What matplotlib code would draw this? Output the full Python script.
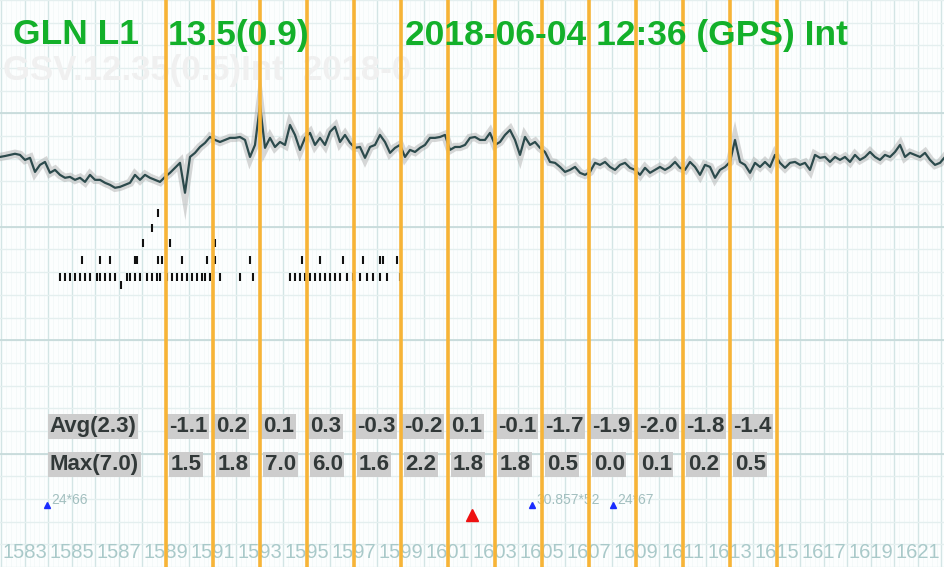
import numpy as np
import matplotlib
matplotlib.use("Agg")
import matplotlib.pyplot as plt

# Kurve (Werte an gleichmaessig verteilten Zeitpunkten ueber die ganze Breite)
x_start, x_end = 1581.94, 1622.15
signal = [
    13.08, 13.12, 13.17, 13.22, 13.17, 12.95, 13.04, 12.42, 12.73, 12.86,
    12.38, 12.51, 12.29, 12.16, 12.20, 12.07, 12.16, 11.98, 12.29, 12.07,
    12.07, 11.94, 11.85, 11.72, 11.76, 11.85, 11.94, 12.29, 12.07, 12.29,
    12.16, 12.07, 11.98, 12.20, 12.38, 12.60, 12.82, 11.50, 13.08, 13.26,
    13.52, 13.70, 13.96, 13.83, 13.74, 13.83, 13.92, 13.92, 13.96, 13.83,
    13.08, 13.61, 15.37, 13.48, 13.92, 13.52, 13.74, 13.61, 14.49, 14.05,
    13.39, 13.92, 14.14, 13.61, 13.92, 13.61, 14.19, 14.41, 13.74, 14.05,
    13.70, 13.48, 13.52, 13.04, 13.52, 13.61, 14.05, 13.74, 13.26, 13.48,
    13.61, 13.08, 13.39, 13.30, 13.48, 13.61, 13.92, 13.92, 13.96, 14.05,
    13.39, 13.52, 13.52, 13.61, 13.92, 13.96, 13.83, 13.83, 14.14, 13.61,
    13.74, 14.05, 14.27, 13.83, 13.17, 13.96, 13.61, 13.74, 13.48, 13.30,
    12.86, 12.82, 12.64, 12.42, 12.51, 12.64, 12.38, 12.29, 12.42, 12.82,
    12.73, 12.86, 12.64, 12.51, 12.73, 12.82, 12.60, 12.51, 12.29, 12.60,
    12.38, 12.51, 12.64, 12.51, 12.64, 12.86, 12.60, 12.51, 12.86, 12.64,
    12.29, 12.73, 12.64, 12.16, 12.51, 12.64, 12.86, 13.83, 12.86, 12.73,
    12.38, 12.82, 12.64, 12.86, 12.64, 13.17, 12.82, 12.60, 12.82, 12.86,
    12.73, 12.82, 12.51, 13.17, 13.04, 13.08, 12.86, 13.08, 12.95, 13.08,
    12.86, 13.17, 12.95, 13.08, 13.30, 13.08, 12.95, 13.17, 13.08, 13.30,
    13.61, 13.08, 13.26, 13.17, 13.08, 13.26, 12.95, 12.73, 12.82, 13.08,
]

# orange Tagesgrenzen und Statistik je Abschnitt
day_lines = [1589, 1591, 1593, 1595, 1597, 1599, 1601, 1603, 1605, 1607, 1609, 1611, 1613, 1615]
avg_values = ["-1.1", "0.2", "0.1", "0.3", "-0.3", "-0.2", "0.1", "-0.1", "-1.7", "-1.9", "-2.0", "-1.8", "-1.4"]
max_values = ["1.5", "1.8", "7.0", "6.0", "1.6", "2.2", "1.8", "1.8", "0.5", "0.0", "0.1", "0.2", "0.5"]
avg_label = "Avg(2.3)"
max_label = "Max(7.0)"

tick_labels = [1583, 1585, 1587, 1589, 1591, 1593, 1595, 1597, 1599, 1601,
               1603, 1605, 1607, 1609, 1611, 1613, 1615, 1617, 1619, 1621]

# kleine schwarze Striche unter der Kurve
marks_x = [1584.49, 1584.70, 1584.91, 1585.13, 1585.34, 1585.55, 1585.77, 1586.06, 1586.19, 1586.40,
           1586.62, 1586.83, 1587.34, 1587.47, 1587.68, 1587.89, 1588.19, 1588.40, 1588.62, 1588.74,
           1589.04, 1589.26, 1589.47, 1589.68, 1589.89, 1590.11, 1590.32, 1590.53, 1590.66, 1590.87,
           1591.30, 1592.15, 1592.70, 1594.28, 1594.49, 1594.70, 1594.91, 1595.13, 1595.34, 1595.55,
           1595.77, 1595.98, 1596.19, 1596.40, 1596.70, 1596.96, 1597.26, 1597.55, 1597.81, 1598.11,
           1598.40, 1598.96,
           1585.43, 1586.19, 1586.62, 1587.68, 1587.77, 1588.66, 1588.83, 1589.68, 1590.74, 1591.09,
           1592.57, 1594.79, 1595.55, 1596.53, 1597.38, 1598.11, 1598.23, 1598.83,
           1588.02, 1589.17, 1591.09, 1588.40, 1588.66, 1587.09]
marks_y = [7.80] * 52 + [8.55] * 18 + [9.30, 9.30, 9.30, 9.96, 10.62, 7.44]

# Satelliten-Markierungen
sat_x = [1583.94, 1604.57, 1608.02]
sat_labels = ["24*66", "30.857*52", "24*67"]
sat_y = -2.25
event_x = 1602.02
event_y = -2.69

fig = plt.figure(figsize=(9.45, 5.67), dpi=100)
ax = fig.add_axes([0, 0, 1, 1])
ax.set_facecolor("#fcfefe")
ax.set_xlim(x_start, x_end)
ax.set_ylim(-5, 20)

# Raster
for xv in np.arange(1582, 1623, 0.2):
    ax.axvline(xv, color="#f1f7f7", lw=0.5, zorder=0)
for xv in range(1582, 1623):
    ax.axvline(xv, color="#d3e5e5", lw=1.0, zorder=0)
for yv in range(-5, 21):
    ax.axhline(yv, color="#e4efef", lw=1.0, zorder=0)
for yv in [0, 5, 10, 15]:
    ax.axhline(yv, color="#c4d9d9", lw=1.2, zorder=0)
ax.set_xticks([])
ax.set_yticks([])
for s in ax.spines.values():
    s.set_visible(False)

# blasse Geistertext-Zeile
ax.text(1582.05, 16.9, "GSV.12.35(0.5)Int  2018-0", fontsize=25, fontweight="bold",
        family="Liberation Sans", color="#f0f0f0", va="center", ha="left", zorder=1)

x = np.linspace(x_start, x_end, len(signal))
ax.plot(x, signal, color="#a8a8a8", lw=6, alpha=0.45, zorder=3, solid_joinstyle="miter")
ax.plot(x, signal, color="#2c4a4c", lw=1.6, zorder=4)

ax.plot(marks_x, marks_y, ls="none", marker="|", ms=6, mew=1.5, color="#111111", zorder=4)

for d in day_lines:
    ax.axvline(d, color="#f7b437", lw=2.6, zorder=6)

box = dict(boxstyle="square,pad=0.08", fc="#cdcdcd", ec="none")
ax.text(1584.06, 1.19, avg_label, fontsize=16, fontweight="bold", family="Liberation Sans",
        color="#313838", va="center", ha="left", bbox=box, zorder=5)
ax.text(1584.06, -0.48, max_label, fontsize=16, fontweight="bold", family="Liberation Sans",
        color="#313838", va="center", ha="left", bbox=box, zorder=5)
for d, a, m in zip(day_lines, avg_values, max_values):
    ax.text(d + 0.12, 1.19, a, fontsize=16, fontweight="bold", family="Liberation Sans",
            color="#313838", va="center", ha="left", bbox=box, zorder=5)
    ax.text(d + 0.2, -0.48, m, fontsize=16, fontweight="bold", family="Liberation Sans",
            color="#313838", va="center", ha="left", bbox=box, zorder=5)

ax.plot(sat_x, [sat_y] * len(sat_x), ls="none", marker="^", ms=5, color="#1a2cff", zorder=5)
for sx, lab in zip(sat_x, sat_labels):
    ax.text(sx + 0.2, sat_y + 0.2, lab, fontsize=10, family="Liberation Sans",
            color="#a2bfbf", va="center", ha="left", zorder=5)
ax.plot([event_x], [event_y], ls="none", marker="^", ms=8, color="#ee1111", zorder=5)

for t in tick_labels:
    ax.text(t, -4.36, str(t), fontsize=14.5, family="Liberation Sans", color="#a9c9c9",
            va="center", ha="center", zorder=5)

green = "#13b02a"
fig.text(13 / 945, 1 - 35 / 567, "GLN L1", fontsize=25.5, fontweight="bold",
         family="Liberation Sans", color=green, va="center", ha="left")
fig.text(168 / 945, 1 - 35 / 567, "13.5(0.9)", fontsize=25.5, fontweight="bold",
         family="Liberation Sans", color=green, va="center", ha="left")
fig.text(405 / 945, 1 - 35 / 567, "2018-06-04 12:36 (GPS) Int", fontsize=25.5, fontweight="bold",
         family="Liberation Sans", color=green, va="center", ha="left")

plt.savefig("out.png", dpi=100)
